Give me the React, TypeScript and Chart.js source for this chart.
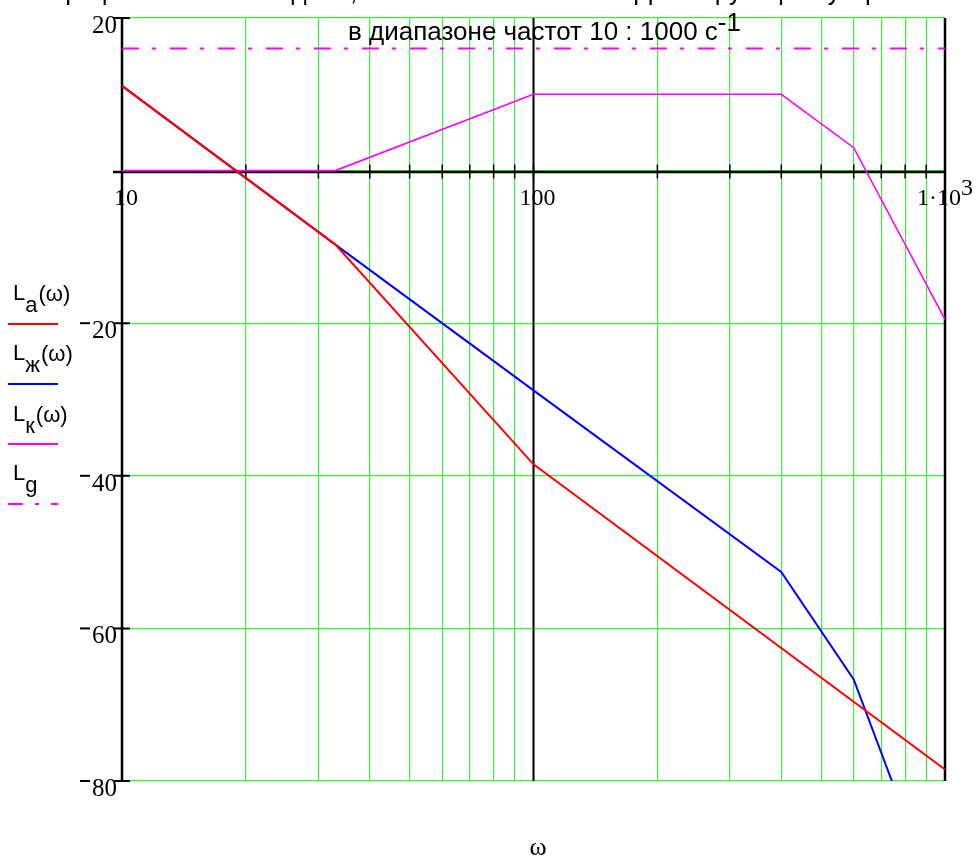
import { useEffect, useRef } from "react";
import { Chart, registerables } from "chart.js";

Chart.register(...registerables);

// ---- data ----
const xGridValues = [10, 20, 30, 40, 50, 60, 70, 80, 90, 100, 200, 300, 400, 500, 600, 700, 800, 900, 1000];
const yTickValues = [20, 0, -20, -40, -60, -80];
const yLabelValues = [20, -20, -40, -60, -80];
const xLabelValues = [10, 100, 1000];
const xLabelTexts = ["10", "100", "1·10"];
const xLabelSups = ["", "", "3"];

const omegaA = [10, 33, 100, 1000];
const La = [11.1, -9.7, -38.5, -78.5];

const omegaZh = [10, 33, 100, 400, 600, 743];
const Lzh = [11.1, -9.7, -28.8, -52.6, -66.7, -80];

const omegaK = [10, 33, 100, 400, 600, 1000];
const Lk = [0, 0, 10, 10, 3, -19.5];

const omegaG = [10, 1000];
const Lg = [16, 16];

const titleLine1 = "Графики ЛАЧХ исходной, желаемой систем и корректирующего устройства";
const titleLine2 = "в диапазоне частот 10 : 1000 с";
const titleSup = "-1";
const xAxisTitle = "ω";

const legendMain = ["L", "L", "L", "L"];
const legendSub = ["a", "ж", "к", "g"];
const legendArg = ["(ω)", "(ω)", "(ω)", ""];

const RED = "#ff0000";
const BLUE = "#0000ff";
const MAGENTA = "#ff00ff";
const GREEN = "#3cef3c";
const GD: number[] = [17, 13, 4, 14];

const pts = (xs: number[], ys: number[]) => xs.map((x, i) => ({ x, y: ys[i] }));

export default function App() {
  const ref = useRef<HTMLCanvasElement>(null);

  useEffect(() => {
    const canvas = ref.current!;
    const ctx = canvas.getContext("2d")!;

    const overlay = {
      id: "mathcadOverlay",
      beforeDatasetsDraw(chart: any) {
        const c = chart.ctx as CanvasRenderingContext2D;
        const a = chart.chartArea;
        const xs = chart.scales.x;
        const ys = chart.scales.y;
        const y0 = ys.getPixelForValue(0);
        const x100 = xs.getPixelForValue(100);
        c.save();
        c.strokeStyle = "#000";
        c.lineWidth = 2.5;
        c.beginPath();
        c.moveTo(a.left, a.top);
        c.lineTo(a.left, a.bottom);
        c.moveTo(a.right, a.top);
        c.lineTo(a.right, a.bottom);
        c.stroke();
        c.lineWidth = 2;
        c.beginPath();
        c.moveTo(x100, a.top);
        c.lineTo(x100, a.bottom);
        c.stroke();
        c.lineWidth = 2.5;
        c.beginPath();
        c.moveTo(a.left - 9, y0 + 1.5);
        c.lineTo(a.right, y0 + 1.5);
        c.stroke();
        c.lineWidth = 1.5;
        c.beginPath();
        xGridValues.forEach((v) => {
          const px = xs.getPixelForValue(v);
          c.moveTo(px, y0 - 6);
          c.lineTo(px, y0 + 8);
        });
        c.stroke();
        c.lineWidth = 2;
        c.beginPath();
        yTickValues.forEach((v) => {
          const py = ys.getPixelForValue(v) + (v === 0 ? 1.5 : 0);
          c.moveTo(a.left - 8, py);
          c.lineTo(a.left + 8, py);
        });
        c.stroke();
        c.restore();
      },
      afterDraw(chart: any) {
        const c = chart.ctx as CanvasRenderingContext2D;
        const a = chart.chartArea;
        const xs = chart.scales.x;
        const ys = chart.scales.y;
        const y0 = ys.getPixelForValue(0);
        c.save();
        c.fillStyle = "#000";
        c.textBaseline = "alphabetic";

        // y labels
        c.font = "25px 'Liberation Serif'";
        c.textAlign = "right";
        yLabelValues.forEach((v) => {
          const py = ys.getPixelForValue(v);
          const txt = String(Math.abs(v));
          const right = a.left - 5;
          c.fillText(txt, right, py + 15);
          if (v < 0) {
            const w = c.measureText(txt).width;
            c.fillRect(right - w - 12, py - 1, 10, 2);
          }
        });

        // x labels
        c.textAlign = "left";
        xLabelValues.forEach((v, i) => {
          const px = xs.getPixelForValue(v);
          const t = xLabelTexts[i];
          const s = xLabelSups[i];
          c.font = "24px 'Liberation Serif'";
          const w = c.measureText(t).width;
          const ws = s ? c.measureText(s).width : 0;
          const total = w + ws;
          const start = s ? px - total / 2 : px + 4 - w / 2;
          c.fillText(t, start, y0 + 34);
          if (s) c.fillText(s, start + w, y0 + 24);
        });

        // x axis title
        c.font = "26px 'Liberation Serif'";
        c.textAlign = "center";
        c.fillText(xAxisTitle, 538, 855);

        // titles
        c.font = "26px 'Liberation Sans'";
        c.textAlign = "center";
        c.fillText(titleLine1, 507, 0);
        c.textAlign = "left";
        const tx = 348;
        c.fillText(titleLine2, tx, 40);
        const tw = c.measureText(titleLine2).width;
        c.fillText(titleSup, tx + tw, 31);

        // legend
        const baselines = [300, 360, 421, 480];
        const lineYs = [324, 384, 444, 504];
        const colors = [RED, BLUE, MAGENTA, MAGENTA];
        legendMain.forEach((m, i) => {
          const b = baselines[i];
          c.fillStyle = "#000";
          c.textAlign = "left";
          c.font = "22px 'Liberation Sans'";
          c.fillText(m, 13, b);
          const mw = c.measureText(m).width;
          c.fillText(legendSub[i], 13 + mw, b + 12);
          const sw = c.measureText(legendSub[i]).width;
          if (legendArg[i]) c.fillText(legendArg[i], 13 + mw + sw + 1, b + 1);
          c.strokeStyle = colors[i];
          c.lineWidth = 2;
          c.setLineDash(i === 3 ? [15, 12, 4, 12] : []);
          c.beginPath();
          c.moveTo(8, lineYs[i]);
          c.lineTo(58, lineYs[i]);
          c.stroke();
          c.setLineDash([]);
        });
        c.restore();
      },
    };

    const chart = new Chart(ctx, {
      type: "line",
      data: {
        datasets: [
          { label: "La", data: pts(omegaA, La), borderColor: RED, borderWidth: 2, pointRadius: 0, fill: false },
          { label: "Lzh", data: pts(omegaZh, Lzh), borderColor: BLUE, borderWidth: 2, pointRadius: 0, fill: false },
          { label: "Lk", data: pts(omegaK, Lk), borderColor: MAGENTA, borderWidth: 1.6, pointRadius: 0, fill: false },
          { label: "Lg", data: pts(omegaG, Lg), borderColor: MAGENTA, borderWidth: 2, borderDash: GD, pointRadius: 0, fill: false },
        ],
      },
      options: {
        responsive: false,
        animation: false,
        devicePixelRatio: 1,
        layout: { padding: { left: 122, top: 18, right: 31, bottom: 78 } },
        plugins: { legend: { display: false }, tooltip: { enabled: false }, title: { display: false } },
        elements: { line: { tension: 0 }, point: { radius: 0 } },
        scales: {
          x: {
            type: "logarithmic",
            min: 10,
            max: 1000,
            afterBuildTicks: (s: any) => {
              s.ticks = xGridValues.map((v) => ({ value: v }));
            },
            ticks: { display: false },
            grid: { color: GREEN, lineWidth: 1.2, drawTicks: false },
            border: { display: false },
          },
          y: {
            type: "linear",
            min: -80,
            max: 20,
            afterBuildTicks: (s: any) => {
              s.ticks = yTickValues.map((v) => ({ value: v }));
            },
            ticks: { display: false },
            grid: { color: GREEN, lineWidth: 1.2, drawTicks: false },
            border: { display: false },
          },
        },
      },
      plugins: [overlay],
    } as any);

    return () => chart.destroy();
  }, []);

  return (
    <div style={{ position: "absolute", left: 0, top: 0, width: 976, height: 859, background: "#fff" }}>
      <canvas ref={ref} width={976} height={859} style={{ display: "block", width: 976, height: 859 }} />
    </div>
  );
}
